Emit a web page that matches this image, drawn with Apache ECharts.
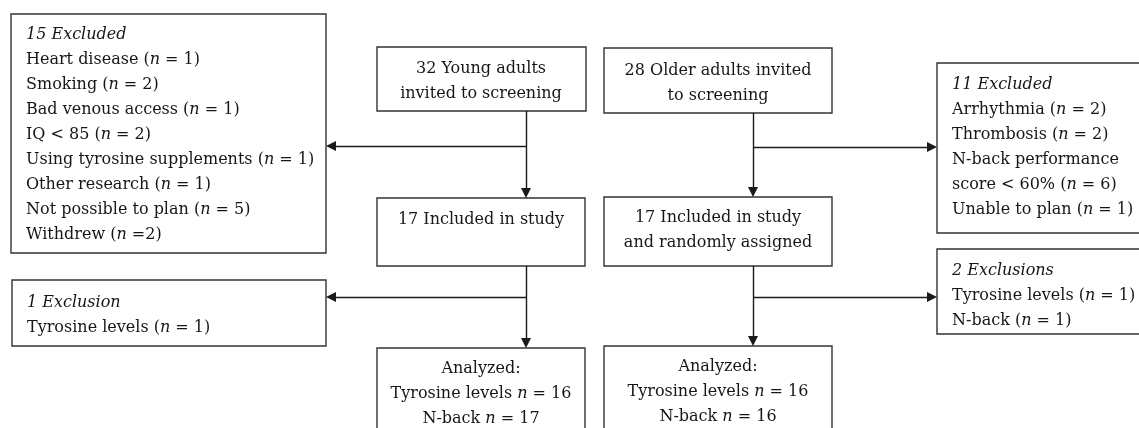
<!DOCTYPE html>
<html>
<head>
<meta charset="utf-8">
<script src="https://cdn.jsdelivr.net/npm/echarts@6/dist/echarts.min.js"></script>
<style>
  html, body { margin: 0; padding: 0; background: #fff; }
  #chart { width: 1139px; height: 428px; }
</style>
</head>
<body>
<div id="chart"></div>
<script>
// box contents, one array of lines per box ({i|...} = italic)
const boxTexts = [
    ["{i|15 Excluded}", "Heart disease ({i|n} = 1)", "Smoking ({i|n} = 2)", "Bad venous access ({i|n} = 1)",
     "IQ < 85 ({i|n} = 2)", "Using tyrosine supplements ({i|n} = 1)", "Other research ({i|n} = 1)",
     "Not possible to plan ({i|n} = 5)", "Withdrew ({i|n} =2)"],
    ["32 Young adults", "invited to screening"],
    ["28 Older adults invited", "to screening"],
    ["17 Included in study"],
    ["17 Included in study", "and randomly assigned"],
    ["{i|11 Excluded}", "Arrhythmia ({i|n} = 2)", "Thrombosis ({i|n} = 2)", "N-back performance",
     "score < 60% ({i|n} = 6)", "Unable to plan ({i|n} = 1)"],
    ["{i|2 Exclusions}", "Tyrosine levels ({i|n} = 1)", "N-back ({i|n} = 1)"],
    ["{i|1 Exclusion}", "Tyrosine levels ({i|n} = 1)"],
    ["Analyzed:", "Tyrosine levels {i|n} = 16", "N-back {i|n} = 17"],
    ["Analyzed:", "Tyrosine levels {i|n} = 16", "N-back {i|n} = 16"],
];

// layout of each box in page units: x0, y0, x1, y1
const boxRects = [
    [11, 14, 326, 253],
    [377, 47, 586, 111],
    [604, 48, 832, 113],
    [377, 198, 585, 266],
    [604, 197, 832, 266],
    [937, 63, 1150, 233],
    [937, 249, 1150, 334],
    [12, 280, 326, 346],
    [377, 348, 585, 445],
    [604, 346, 832, 445],
];
// text anchor: align, x, top of first line
const boxTextPos = [
    ["left", 26, 22],
    ["center", 481, 56],
    ["center", 718, 58],
    ["center", 481, 207],
    ["center", 718, 205],
    ["left", 952, 72],
    ["left", 952, 258],
    ["left", 27, 290],
    ["center", 481, 356],
    ["center", 718, 354],
];

// arrows: from -> to
const connectors = [
    [[526, 111], [526, 198]],
    [[526, 146], [326, 146]],
    [[753, 113], [753, 197]],
    [[753, 147], [937, 147]],
    [[526, 266], [526, 348]],
    [[526, 297], [326, 297]],
    [[753, 266], [753, 346]],
    [[753, 297], [937, 297]],
];

const FONT = "DejaVu Serif";
const FONT_SIZE = 16;
const LINE_H = 25;
const TEXT_COLOR = "#161616";
const ARROW = 10;

// pull the line end back so the arrow tip sits on the box edge
function arrowCoords(c) {
    const [a, b] = c;
    const dx = b[0] - a[0], dy = b[1] - a[1];
    const len = Math.sqrt(dx * dx + dy * dy);
    return [a, [b[0] - dx / len * ARROW / 2, b[1] - dy / len * ARROW / 2]];
}

const chart = echarts.init(document.getElementById("chart"));

chart.setOption({
    animation: false,
    grid: { left: 0, right: 0, top: 0, bottom: 0 },
    xAxis: { type: "value", min: 0, max: 1139, show: false },
    yAxis: { type: "value", min: 0, max: 428, inverse: true, show: false },
    series: [
        {
            type: "custom",
            coordinateSystem: "cartesian2d",
            clip: false,
            data: boxRects.map((r) => [r[0], r[1], r[2], r[3]]),
            renderItem: (params, api) => {
                const i = params.dataIndex;
                const p0 = api.coord([api.value(0), api.value(1)]);
                const p1 = api.coord([api.value(2), api.value(3)]);
                const [align, tx, ty] = boxTextPos[i];
                const tp = api.coord([tx, ty]);
                const base = { fontFamily: FONT, fontSize: FONT_SIZE, lineHeight: LINE_H, fill: TEXT_COLOR };
                return {
                    type: "group",
                    children: [
                        {
                            type: "rect",
                            shape: { x: p0[0], y: p0[1], width: p1[0] - p0[0], height: p1[1] - p0[1] },
                            style: { fill: "#fff", stroke: "#333", lineWidth: 1.4 },
                        },
                        {
                            type: "text",
                            x: tp[0],
                            y: tp[1],
                            style: Object.assign({}, base, {
                                text: boxTexts[i].join("\n"),
                                align: align,
                                verticalAlign: "top",
                                rich: {
                                    i: Object.assign({}, base, { fontStyle: "italic" }),
                                },
                            }),
                        },
                    ],
                };
            },
        },
        {
            type: "lines",
            coordinateSystem: "cartesian2d",
            symbol: ["none", "triangle"],
            symbolSize: [9, ARROW],
            lineStyle: { color: "#1a1a1a", width: 1.4, opacity: 1 },
            itemStyle: { color: "#1a1a1a" },
            data: connectors.map((c) => ({ coords: arrowCoords(c) })),
        },
    ],
});
</script>
</body>
</html>
